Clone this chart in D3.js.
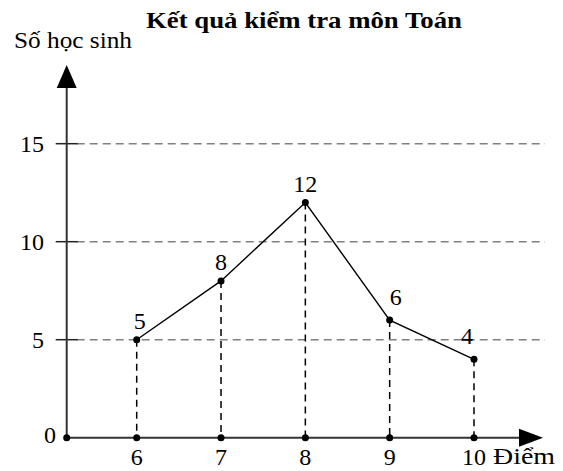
<!DOCTYPE html>
<html>
<head>
<meta charset="utf-8">
<script src="https://cdn.jsdelivr.net/npm/d3@7"></script>
<style>
  body { margin: 0; background: #fff; }
  text { font-family: "Liberation Serif", "Times New Roman", serif; fill: #000; }
</style>
</head>
<body>
<svg id="chart" width="563" height="471"></svg>
<script>
// Data
const scores = [6, 7, 8, 9, 10];
const students = [5, 8, 12, 6, 4];
const yTicks = [5, 10, 15];
const labelNudge = [3, 0, 0, 6, -7]; // small horizontal shifts of value labels

const title = "Kết quả kiểm tra môn Toán";
const yTitle = "Số học sinh";
const xTitle = "Điểm";

const svg = d3.select("#chart");

const originX = 66.7, originY = 437.7;
const x = d3.scaleLinear().domain([6, 10]).range([136.7, 474]);
const y = d3.scaleLinear().domain([0, 15]).range([originY, 143.7]);

// Grid lines
svg.selectAll(".grid")
    .data(yTicks)
    .join("line")
    .attr("x1", originX + 10).attr("x2", 545)
    .attr("y1", d => y(d)).attr("y2", d => y(d))
    .attr("stroke", "#808080")
    .attr("stroke-width", 1.5)
    .attr("stroke-dasharray", "8,5");

// Tick marks on y axis
svg.selectAll(".tick")
    .data(yTicks)
    .join("line")
    .attr("x1", originX - 11).attr("x2", originX + 11)
    .attr("y1", d => y(d)).attr("y2", d => y(d))
    .attr("stroke", "#222")
    .attr("stroke-width", 1.5);

svg.selectAll(".ylab")
    .data(yTicks)
    .join("text")
    .attr("x", 44)
    .attr("y", d => y(d))
    .attr("dy", "0.33em")
    .attr("text-anchor", "end")
    .attr("font-size", 24)
    .text(d => d);

svg.append("text")
    .attr("x", 56).attr("y", y(0))
    .attr("dy", "0.2em")
    .attr("text-anchor", "end")
    .attr("font-size", 24)
    .text("0");

// Vertical dashed drops
svg.selectAll(".drop")
    .data(scores)
    .join("line")
    .attr("x1", d => x(d)).attr("x2", d => x(d))
    .attr("y1", (d, i) => y(students[i])).attr("y2", originY)
    .attr("stroke", "#000")
    .attr("stroke-width", 1.5)
    .attr("stroke-dasharray", "7,5");

// Axes
svg.append("line")
    .attr("x1", originX).attr("x2", originX)
    .attr("y1", originY).attr("y2", 88)
    .attr("stroke", "#333").attr("stroke-width", 2);
svg.append("path")
    .attr("d", `M${originX - 10},88 L${originX + 10},88 L${originX},65 Z`)
    .attr("fill", "#000");

svg.append("line")
    .attr("x1", originX).attr("x2", 519)
    .attr("y1", originY).attr("y2", originY)
    .attr("stroke", "#333").attr("stroke-width", 2);
svg.append("path")
    .attr("d", `M519,${originY - 9} L519,${originY + 9} L543,${originY} Z`)
    .attr("fill", "#000");

// Polyline
const line = d3.line()
    .x((d, i) => x(scores[i]))
    .y(d => y(d));
svg.append("path")
    .datum(students)
    .attr("d", line)
    .attr("fill", "none")
    .attr("stroke", "#000")
    .attr("stroke-width", 1.4);

// Points on the line and on the x axis
svg.selectAll(".pt")
    .data(scores)
    .join("circle")
    .attr("cx", d => x(d))
    .attr("cy", (d, i) => y(students[i]))
    .attr("r", 3.5);

svg.selectAll(".xpt")
    .data(scores)
    .join("circle")
    .attr("cx", d => x(d))
    .attr("cy", originY)
    .attr("r", 3.5);
svg.append("circle").attr("cx", originX).attr("cy", originY).attr("r", 3.5);

// Value labels
svg.selectAll(".val")
    .data(students)
    .join("text")
    .attr("x", (d, i) => x(scores[i]) + labelNudge[i])
    .attr("y", (d, i) => y(d) - (i > 2 ? 15 : 11))
    .attr("text-anchor", "middle")
    .attr("font-size", 24)
    .text(d => d);

// X labels
svg.selectAll(".xlab")
    .data(scores)
    .join("text")
    .attr("x", d => x(d))
    .attr("y", 465)
    .attr("text-anchor", "middle")
    .attr("font-size", 24)
    .text(d => d);

svg.append("text")
    .attr("x", 493).attr("y", 464)
    .attr("font-size", 23)
    .attr("textLength", 62)
    .attr("lengthAdjust", "spacingAndGlyphs")
    .text(xTitle);

svg.append("text")
    .attr("x", 14).attr("y", 48)
    .attr("font-size", 23)
    .attr("textLength", 118)
    .attr("lengthAdjust", "spacingAndGlyphs")
    .text(yTitle);

svg.append("text")
    .attr("x", 146).attr("y", 28)
    .attr("font-size", 22.5)
    .attr("font-weight", "bold")
    .attr("textLength", 316)
    .attr("lengthAdjust", "spacingAndGlyphs")
    .text(title);
</script>
</body>
</html>
